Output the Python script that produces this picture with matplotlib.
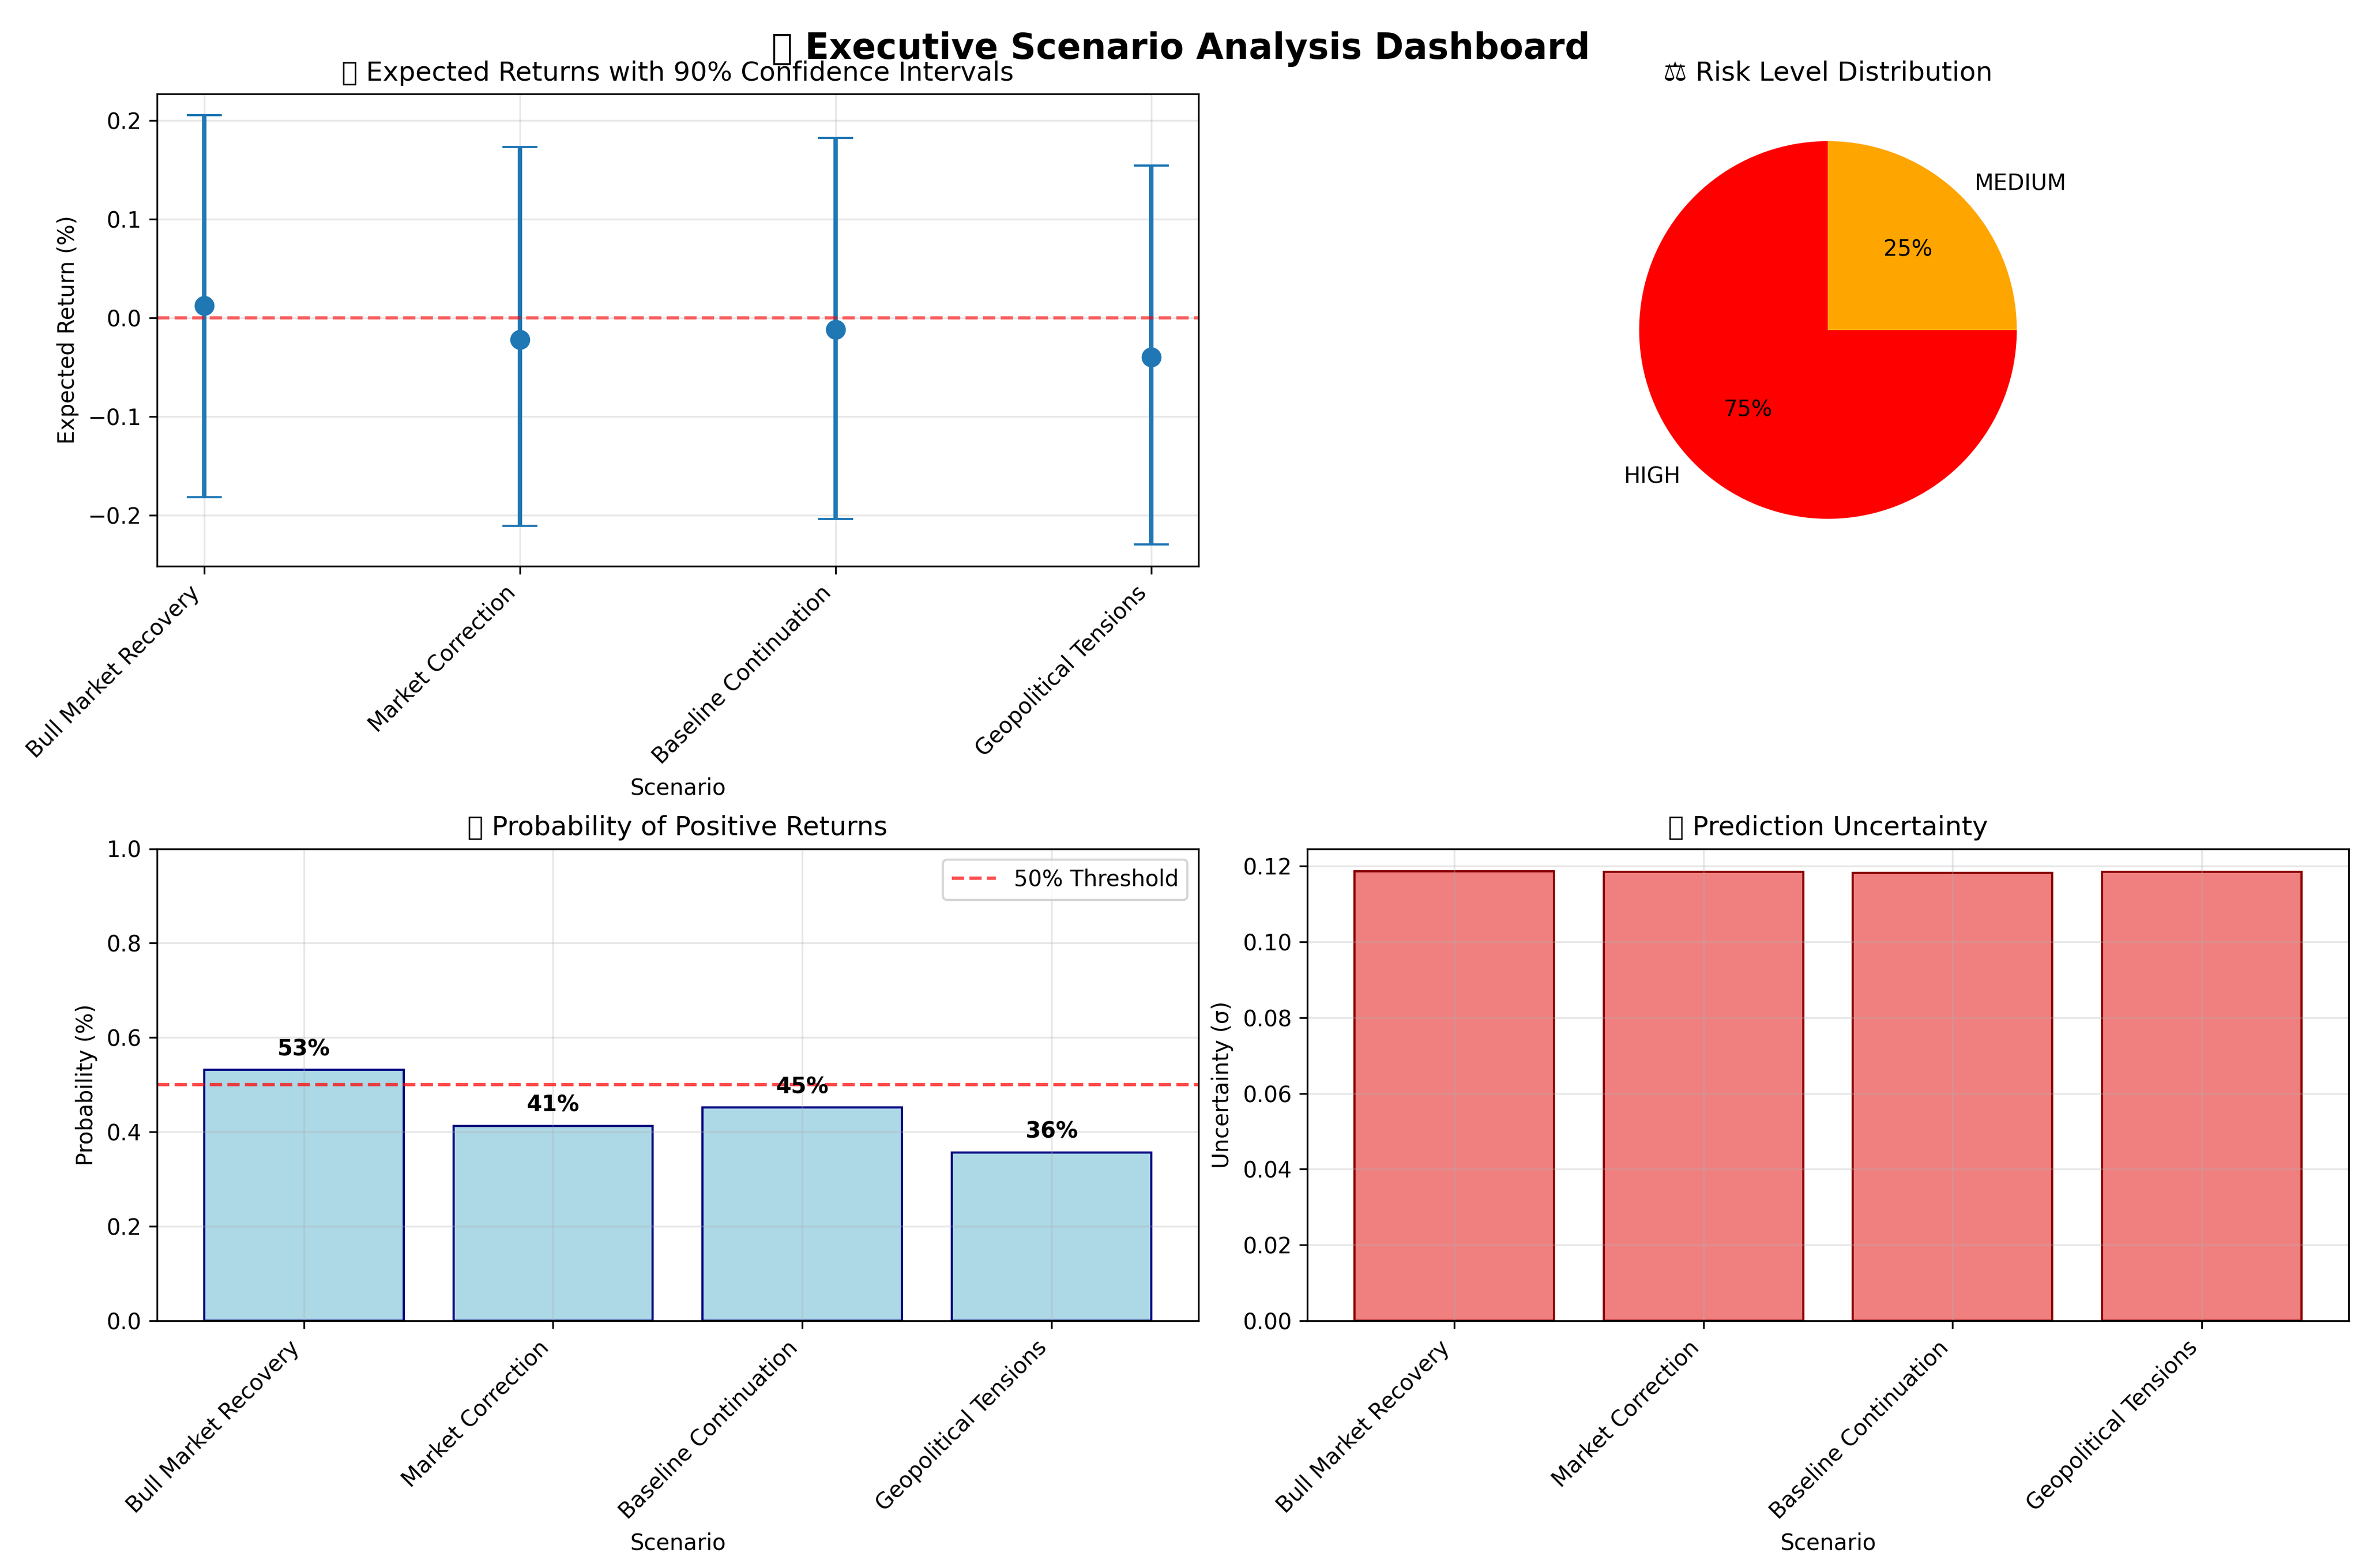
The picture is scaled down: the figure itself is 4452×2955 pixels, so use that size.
import matplotlib.pyplot as plt
import numpy as np

scenarios = ['Bull Market Recovery', 'Market Correction', 'Baseline Continuation', 'Geopolitical Tensions']
expected = [0.012, -0.022, -0.012, -0.040]
ci_upper = [0.205, 0.173, 0.182, 0.154]
ci_lower = [-0.182, -0.211, -0.204, -0.230]
prob_positive = [0.532, 0.413, 0.452, 0.357]
uncertainty = [0.1186, 0.1184, 0.1182, 0.1185]
risk_labels = ['HIGH', 'MEDIUM']
risk_counts = [3, 1]

fig, axes = plt.subplots(2, 2, figsize=(14.84, 9.85))
fig.suptitle('📊 Executive Scenario Analysis Dashboard', fontsize=16, fontweight='bold')

x = np.arange(len(scenarios))
exp = np.array(expected)
yerr = [exp - np.array(ci_lower), np.array(ci_upper) - exp]

ax = axes[0, 0]
ax.errorbar(x, exp, yerr=yerr, fmt='o', capsize=8, markersize=8, linewidth=2)
ax.axhline(0, color='red', linestyle='--', alpha=0.6)
ax.set_title('📈 Expected Returns with 90% Confidence Intervals')
ax.set_xlabel('Scenario')
ax.set_ylabel('Expected Return (%)')
ax.set_xticks(x)
ax.set_xticklabels(scenarios, rotation=45, ha='right')
ax.grid(True, alpha=0.3)

ax = axes[0, 1]
ax.pie(risk_counts, labels=risk_labels, colors=['red', 'orange'], autopct='%1.0f%%', startangle=90)
ax.set_title('⚖️ Risk Level Distribution')

ax = axes[1, 0]
bars = ax.bar(x, prob_positive, color='lightblue', edgecolor='navy')
ax.axhline(0.5, color='red', linestyle='--', alpha=0.7, label='50% Threshold')
for b, p in zip(bars, prob_positive):
    ax.text(b.get_x() + b.get_width() / 2, p + 0.02, f'{p:.0%}', ha='center', va='bottom', fontweight='bold')
ax.set_ylim(0, 1)
ax.set_title('🎯 Probability of Positive Returns')
ax.set_xlabel('Scenario')
ax.set_ylabel('Probability (%)')
ax.set_xticks(x)
ax.set_xticklabels(scenarios, rotation=45, ha='right')
ax.legend()
ax.grid(True, alpha=0.3)

ax = axes[1, 1]
ax.bar(x, uncertainty, color='lightcoral', edgecolor='darkred')
ax.set_title('📉 Prediction Uncertainty')
ax.set_xlabel('Scenario')
ax.set_ylabel('Uncertainty (σ)')
ax.set_xticks(x)
ax.set_xticklabels(scenarios, rotation=45, ha='right')
ax.grid(True, alpha=0.3)

plt.tight_layout(pad=0.6)
plt.savefig('out.png', dpi=300)
